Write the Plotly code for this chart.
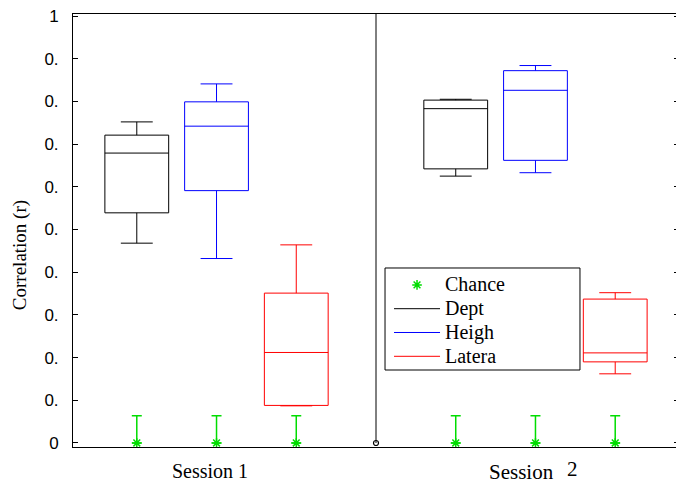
import plotly.graph_objects as go

# ---- data ----
positions_dept = [1, 5]
positions_heigh = [2, 6]
positions_latera = [3, 7]

dept_lower = [0.468, 0.625]
dept_q1 = [0.539, 0.642]
dept_median = [0.679, 0.783]
dept_q3 = [0.721, 0.803]
dept_upper = [0.752, 0.805]

heigh_lower = [0.432, 0.633]
heigh_q1 = [0.591, 0.662]
heigh_median = [0.742, 0.826]
heigh_q3 = [0.799, 0.872]
heigh_upper = [0.841, 0.884]

latera_lower = [0.087, 0.162]
latera_q1 = [0.088, 0.190]
latera_median = [0.212, 0.211]
latera_q3 = [0.351, 0.337]
latera_upper = [0.464, 0.352]

chance_x = [1, 2, 3, 5, 6, 7]
chance_y = [0, 0, 0, 0, 0, 0]
chance_err = [0.064, 0.064, 0.064, 0.064, 0.064, 0.064]

divider_x = [4, 4]
divider_y = [0, 1.1]

tick_vals = [0, 0.1, 0.2, 0.3, 0.4, 0.5, 0.6, 0.7, 0.8, 0.9, 1]
tick_text = ["0", "0.", "0.", "0.", "0.", "0.", "0.", "0.", "0.", "0.", "1"]

GREEN = "#00dd00"
SERIF = "Liberation Serif, Times New Roman, serif"
SANS = "Liberation Sans, Arial, sans-serif"

def big(label):
    return '<span style="font-size:20px">' + label + '</span>'

fig = go.Figure()

def add_box(xs, lo, q1, med, q3, hi, color):
    fig.add_trace(go.Box(
        x=xs, lowerfence=lo, q1=q1, median=med, q3=q3, upperfence=hi,
        width=0.8, whiskerwidth=0.5, boxpoints=False,
        line=dict(color=color, width=1), fillcolor="rgba(0,0,0,0)",
        showlegend=False, hoverinfo="skip"))

add_box(positions_dept, dept_lower, dept_q1, dept_median, dept_q3, dept_upper, "black")
add_box(positions_heigh, heigh_lower, heigh_q1, heigh_median, heigh_q3, heigh_upper, "blue")
add_box(positions_latera, latera_lower, latera_q1, latera_median, latera_q3, latera_upper, "red")

# chance markers with error bars
fig.add_trace(go.Scatter(
    x=chance_x, y=chance_y, mode="markers", name=big("Chance"),
    marker=dict(symbol="asterisk-open", size=8, color=GREEN,
                line=dict(color=GREEN, width=1.5)),
    error_y=dict(type="data", array=chance_err, arrayminus=[0]*len(chance_err),
                 symmetric=False, color=GREEN, thickness=1.5, width=5),
    cliponaxis=False, hoverinfo="skip"))

# divider line between sessions
fig.add_trace(go.Scatter(x=divider_x, y=divider_y, mode="lines",
                         line=dict(color="black", width=1), showlegend=False, hoverinfo="skip"))
fig.add_trace(go.Scatter(x=divider_x[:1], y=divider_y[:1], mode="markers",
                         marker=dict(symbol="circle-open", size=5, color="black",
                                     line=dict(color="black", width=1.2)),
                         cliponaxis=False, showlegend=False, hoverinfo="skip"))

# legend-only line entries
for name, color in [("Dept", "black"), ("Heigh", "blue"), ("Latera", "red")]:
    fig.add_trace(go.Scatter(x=[None], y=[None], mode="lines", name=big(name),
                             line=dict(color=color, width=1)))

fig.update_layout(
    width=676, height=475,
    margin=dict(l=65, r=5, t=6, b=36, autoexpand=False),
    paper_bgcolor="white", plot_bgcolor="white",
    showlegend=True,
    legend=dict(x=0.5215, y=0.4134, xanchor="left", yanchor="top",
                bgcolor="rgba(0,0,0,0)", borderwidth=0, itemwidth=46,
                font=dict(family=SERIF, size=16, color="black"),
                tracegroupgap=0),
    xaxis=dict(range=[0.2, 7.8], showticklabels=False, ticks="",
               showline=True, mirror=True, linecolor="black", linewidth=1,
               showgrid=False, zeroline=False, automargin=False),
    yaxis=dict(range=[-0.0094, 1.0047], tickvals=tick_vals, ticktext=tick_text,
               ticks="inside", ticklen=5, tickcolor="black", tickwidth=1,
               showline=True, mirror="ticks", linecolor="black", linewidth=1,
               showgrid=False, zeroline=False, ticklabelstandoff=10,
               ticklabeloverflow="allow", automargin=False,
               tickfont=dict(family=SANS, size=17, color="black")),
    shapes=[dict(type="rect", xref="paper", yref="paper",
                 x0=0.5149, x1=0.8366, y0=0.1778, y1=0.4134,
                 line=dict(color="black", width=1), fillcolor="rgba(0,0,0,0)")],
    annotations=[
        dict(text="Correlation (r)", xref="paper", yref="paper", x=-0.0875, y=0.443,
             textangle=-90, showarrow=False, xanchor="center", yanchor="middle",
             font=dict(family=SERIF, size=19, color="black")),
        dict(text="Session 1", xref="x", yref="paper", x=1.92, y=-0.055,
             showarrow=False, xanchor="center", yanchor="middle",
             font=dict(family=SERIF, size=20, color="black")),
        dict(text="Session", xref="x", yref="paper", x=5.82, y=-0.057,
             showarrow=False, xanchor="center", yanchor="middle",
             font=dict(family=SERIF, size=21, color="black")),
        dict(text="2", xref="x", yref="paper", x=6.46, y=-0.050,
             showarrow=False, xanchor="center", yanchor="middle",
             font=dict(family=SERIF, size=21, color="black")),
    ],
)

fig.write_html("out.html")
